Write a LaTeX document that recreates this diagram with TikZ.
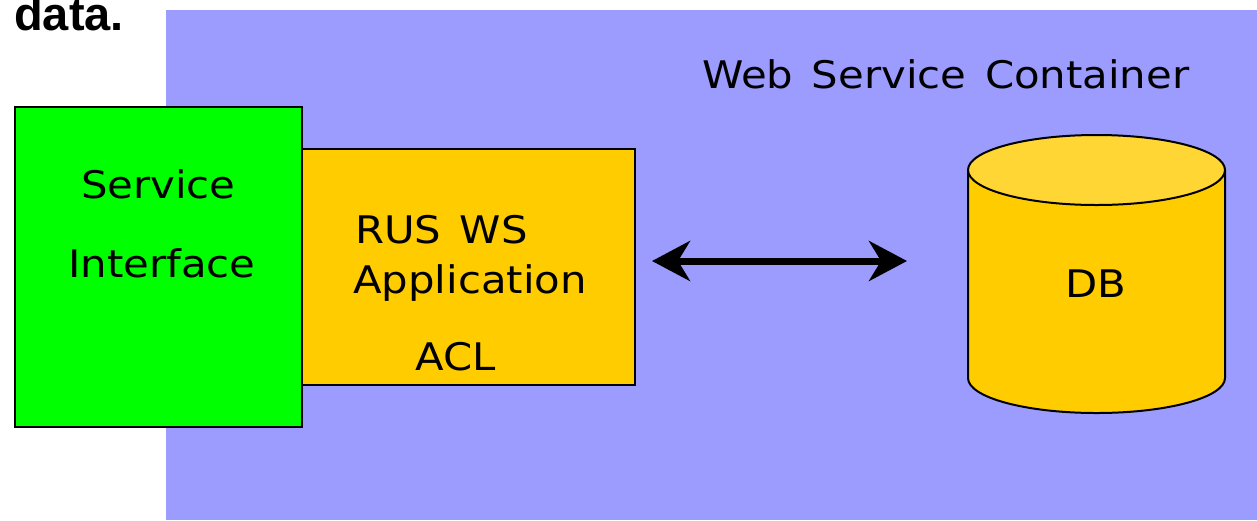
\documentclass[tikz,border=0pt]{standalone}
\usepackage{fontspec}
\setmainfont[FakeStretch=1.1, WordSpace=1.4]{DejaVu Sans}
\newfontfamily\headfont{Liberation Sans}
\usetikzlibrary{arrows.meta}
\definecolor{bgblue}{RGB}{156,156,255}
\definecolor{sigreen}{RGB}{0,255,0}
\definecolor{appyellow}{RGB}{255,204,0}
\definecolor{dbtop}{RGB}{255,214,51}
\tikzset{
  lbl/.style={inner sep=0pt, anchor=base west, font=\fontsize{38}{46}\selectfont},
  boxstyle/.style={draw=black, line width=2pt, inner sep=0pt},
}
\begin{document}
\begin{tikzpicture}[x=1pt,y=-1pt]
\useasboundingbox (0,0) rectangle (1257,520);
% container background
\fill[bgblue] (166,10) rectangle (1257,520);
\node[lbl] (title) at (702,88) {Web Service Container};
% header fragment
\node[inner sep=0pt, anchor=base west, font=\headfont\bfseries\fontsize{47}{52}\selectfont] (data) at (14,30) {data.};
% application box
\node[boxstyle, line width=1.5pt, fill=appyellow, minimum width=333pt, minimum height=236pt] (app) at (468.5,267) {};
% service interface box
\node[boxstyle, fill=sigreen, minimum width=287pt, minimum height=320pt] (si) at (158.5,267) {};
\node[lbl] (svc) at (81,198) {Service};
\node[lbl] (ifc) at (68,277) {Interface};
\node[lbl] (rus) at (355,243) {RUS WS};
\node[lbl] (appl) at (353,293) {Application};
\node[lbl] (acl) at (415,370) {ACL};
% database cylinder
\fill[appyellow] (968,170) -- (968,378) arc[start angle=180, end angle=0, x radius=128.5, y radius=35] -- (1225,170) -- cycle;
\draw[line width=2pt] (968,170) -- (968,378) arc[start angle=180, end angle=0, x radius=128.5, y radius=35] -- (1225,170);
\filldraw[fill=dbtop, line width=2pt] (1096.5,170) ellipse[x radius=128.5, y radius=35];
\node[lbl] (db) at (1065,297) {DB};
% connector
\coordinate (aL) at (652,261);
\coordinate (aR) at (907,261);
\draw[line width=7pt, {Stealth[length=38pt, width=40pt, inset=12pt]}-{Stealth[length=38pt, width=40pt, inset=12pt]}] (aL) -- (aR);
\end{tikzpicture}
\end{document}
